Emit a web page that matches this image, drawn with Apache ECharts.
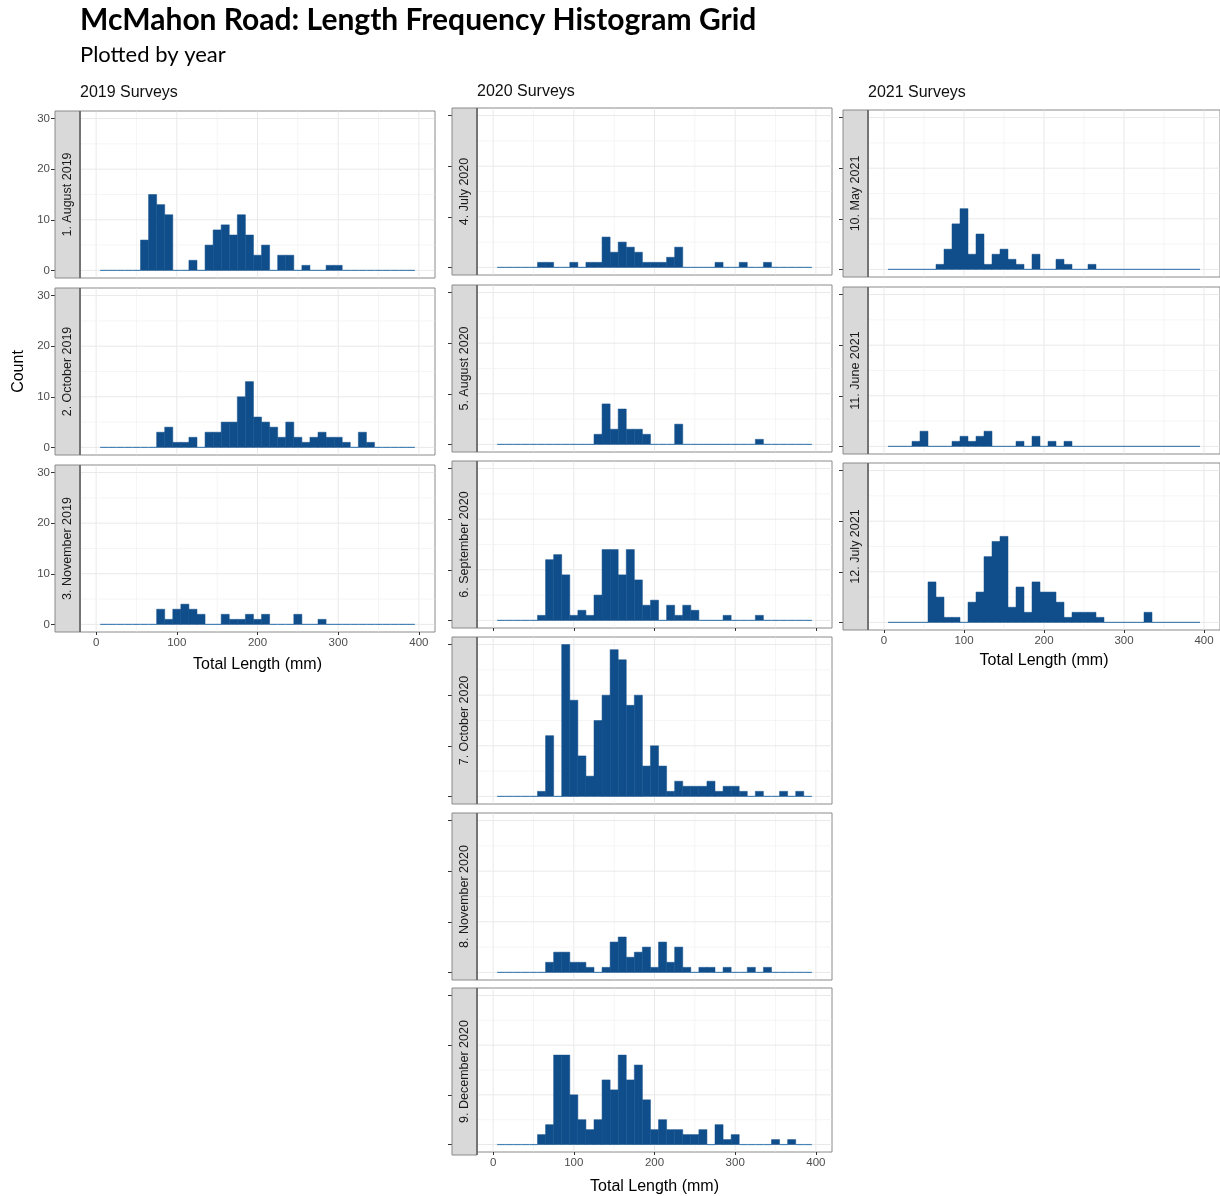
<!DOCTYPE html>
<html>
<head>
<meta charset="utf-8">
<script src="https://cdn.jsdelivr.net/npm/echarts@6/dist/echarts.min.js"></script>
<style>
html,body{margin:0;padding:0;background:#fff;}
#c{width:1220px;height:1196px;}
</style>
</head>
<body>
<div id="c"></div>
<script>
// ---------------- DATA ----------------
const binCenters = [10,20,30,40,50,60,70,80,90,100,110,120,130,140,150,160,170,180,190,200,
                    210,220,230,240,250,260,270,280,290,300,310,320,330,340,350,360,370,380,390];
const xTickValues = [0,100,200,300,400];
const xMinorValues = [50,150,250,350];
const yTickValues = [0,10,20,30];
const yMinorValues = [5,15,25];

const columnTitles = ['2019 Surveys','2020 Surveys','2021 Surveys'];
const surveyNames2019 = ['1. August 2019','2. October 2019','3. November 2019'];
const surveyNames2020 = ['4. July 2020','5. August 2020','6. September 2020','7. October 2020','8. November 2020','9. December 2020'];
const surveyNames2021 = ['10. May 2021','11. June 2021','12. July 2021'];

// counts per 10 mm bin (bins centred at binCenters)
const aug2019 = [0,0,0,0,0,6,15,13,11,0, 0,2,0,5,8,9,7,11,7,3, 5,0,3,3,0,1,0,0,1,1, 0,0,0,0,0,0,0,0,0];
const oct2019 = [0,0,0,0,0,0,0,3,4,1, 1,2,0,3,3,5,5,10,13,6, 5,4,2,5,2,1,2,3,2,2, 1,0,3,1,0,0,0,0,0];
const nov2019 = [0,0,0,0,0,0,0,3,1,3, 4,3,2,0,0,2,1,1,2,1, 2,0,0,0,2,0,0,1,0,0, 0,0,0,0,0,0,0,0,0];
const jul2020 = [0,0,0,0,0,1,1,0,0,1, 0,1,1,6,3,5,4,3,1,1, 1,2,4,0,0,0,0,1,0,0, 1,0,0,1,0,0,0,0,0];
const aug2020 = [0,0,0,0,0,0,0,0,0,0, 0,0,2,8,3,7,3,3,2,0, 0,0,4,0,0,0,0,0,0,0, 0,0,1,0,0,0,0,0,0];
const sep2020 = [0,0,0,0,0,1,12,13,9,1, 2,1,5,14,14,9,14,8,3,4, 0,3,1,3,2,0,0,0,1,0, 0,0,1,0,0,0,0,0,0];
const oct2020 = [0,0,0,0,0,1,12,0,30,19, 8,4,15,20,29,27,18,20,6,10, 6,1,3,2,2,2,3,1,2,2, 1,0,1,0,0,1,0,1,0];
const nov2020 = [0,0,0,0,0,0,2,4,4,2, 2,1,0,1,6,7,3,4,5,1, 6,2,5,1,0,1,1,0,1,0, 0,1,0,1,0,0,0,0,0];
const dec2020 = [0,0,0,0,0,2,4,18,18,10, 5,3,5,13,11,18,13,16,9,3, 5,3,3,2,2,3,0,4,1,2, 0,0,0,0,1,0,1,0,0];
const may2021 = [0,0,0,0,0,0,1,4,9,12, 3,7,1,3,4,2,1,0,3,0, 0,2,1,0,0,1,0,0,0,0, 0,0,0,0,0,0,0,0,0];
const jun2021 = [0,0,0,1,3,0,0,0,1,2, 1,2,3,0,0,0,1,0,2,0, 1,0,1,0,0,0,0,0,0,0, 0,0,0,0,0,0,0,0,0];
const jul2021 = [0,0,0,0,0,8,5,1,1,0, 4,6,13,16,17,3,7,2,8,6, 6,4,1,2,2,2,1,0,0,0, 0,0,2,0,0,0,0,0,0];

// ---------------- LAYOUT ----------------
const BIN_W = 10;
const PANEL_H = 167;
const STRIP_W = 25;
const FONT = '"Liberation Sans", Arial, sans-serif';
const columns = [
  {left:80,  width:355, titleY:93, names:surveyNames2019, counts:[aug2019,oct2019,nov2019],
   tops:[111,288,465], tickPanels:[2], labelPanels:[2], nameGap:25},
  {left:477, width:355, titleY:92, names:surveyNames2020, counts:[jul2020,aug2020,sep2020,oct2020,nov2020,dec2020],
   tops:[108,285,461,637,813,988], tickPanels:[2,5], labelPanels:[5], nameGap:27},
  {left:868, width:356, titleY:93, names:surveyNames2021, counts:[may2021,jun2021,jul2021],
   tops:[110,287,463], tickPanels:[2], labelPanels:[2], nameGap:23}
];

const grids = [], xAxes = [], yAxes = [], series = [], graphics = [];

graphics.push({type:'text', x:80, y:20, z:20,
  style:{text:'McMahon Road: Length Frequency Histogram Grid', fontFamily:'Lato, "Open Sans", sans-serif',
         fontWeight:'bold', fontSize:30, fill:'#000', align:'left', verticalAlign:'middle'}});
graphics.push({type:'text', x:80, y:55, z:20,
  style:{text:'Plotted by year', fontFamily:'Lato, "Open Sans", sans-serif',
         fontSize:22, fill:'#000', align:'left', verticalAlign:'middle'}});

const gridLineData = [
  ...xTickValues.map(v => [v, 0, 0]),
  ...xMinorValues.map(v => [v, 0, 1]),
  ...yTickValues.map(v => [0, v, 2]),
  ...yMinorValues.map(v => [0, v, 3])
];

columns.forEach((col, ci) => {
  graphics.push({type:'text', x:col.left, y:col.titleY, z:20,
    style:{text:columnTitles[ci], fontFamily:FONT, fontSize:16, fill:'#111', align:'left', verticalAlign:'middle'}});
  col.tops.forEach((top, pi) => {
    const gi = grids.length;
    const showTicks = col.tickPanels.includes(pi);
    const showLabels = col.labelPanels.includes(pi);
    grids.push({left:col.left, top:top, width:col.width, height:PANEL_H, show:true,
      backgroundColor:'#fff', borderColor:'#8a8a8a', borderWidth:1, containLabel:false});
    xAxes.push({gridIndex:gi, type:'value', min:-20, max:420, position:'bottom',
      axisLine:{show:false, onZero:false}, splitLine:{show:false},
      axisTick:{show:showTicks, customValues:xTickValues, length:3, lineStyle:{color:'#333', width:1}},
      axisLabel:{show:showLabels, customValues:xTickValues, color:'#4d4d4d', fontSize:11.5, fontFamily:FONT, margin:5},
      name: showLabels ? 'Total Length (mm)' : '', nameLocation:'middle', nameGap:col.nameGap,
      nameTextStyle:{fontSize:16, color:'#000', fontFamily:FONT}});
    yAxes.push({gridIndex:gi, type:'value', min:-1.5, max:31.5, offset:STRIP_W, position:'left',
      axisLine:{show:false, onZero:false}, splitLine:{show:false},
      axisTick:{show:true, customValues:yTickValues, length:4, lineStyle:{color:'#333', width:1}},
      axisLabel:{show:ci===0, customValues:yTickValues, color:'#4d4d4d', fontSize:11.5, fontFamily:FONT, margin:5},
      name: (ci===0 && pi===1) ? 'Count' : '', nameLocation:'middle', nameRotate:90, nameGap:28,
      nameTextStyle:{fontSize:16, color:'#000', fontFamily:FONT}});

    // grid lines (drawn through the axes' scales)
    series.push({type:'custom', xAxisIndex:gi, yAxisIndex:gi, z:1, silent:true,
      data: gridLineData,
      renderItem:(params, api) => {
        const cs = params.coordSys;
        const kind = api.value(2);
        const major = (kind === 0 || kind === 2);
        const style = {stroke: major ? '#e9e9e9' : '#f2f2f2', lineWidth: major ? 1 : 0.8};
        if (kind < 2) {
          const x = api.coord([api.value(0), 0])[0];
          return {type:'line', shape:{x1:x, y1:cs.y + 0.5, x2:x, y2:cs.y + cs.height - 0.5}, style};
        }
        const y = api.coord([0, api.value(1)])[1];
        return {type:'line', shape:{x1:cs.x + 0.5, y1:y, x2:cs.x + cs.width - 0.5, y2:y}, style};
      }});

    // histogram bars
    const counts = col.counts[pi];
    series.push({type:'custom', xAxisIndex:gi, yAxisIndex:gi, z:3, silent:true,
      data: binCenters.map((c, j) => [c, counts[j]]),
      renderItem:(params, api) => {
        const c = api.value(0), n = api.value(1);
        const p0 = api.coord([c - BIN_W/2, 0]);
        const p1 = api.coord([c + BIN_W/2, n]);
        if (n === 0) {
          return {type:'line', shape:{x1:p0[0], y1:p0[1], x2:p1[0], y2:p0[1]},
                  style:{stroke:'#4682B4', lineWidth:1.2}};
        }
        return {type:'rect', shape:{x:p0[0], y:p1[1], width:p1[0]-p0[0], height:p0[1]-p1[1]},
                style:{fill:'#104E8B', stroke:'#104E8B', lineWidth:0.5}};
      }});

    // strip
    graphics.push({type:'rect', z:5, shape:{x:col.left - STRIP_W, y:top, width:STRIP_W, height:PANEL_H},
      style:{fill:'#d9d9d9', stroke:'#8a8a8a', lineWidth:1}});
    graphics.push({type:'line', z:6, shape:{x1:col.left, y1:top, x2:col.left, y2:top + PANEL_H},
      style:{stroke:'#666', lineWidth:1.6}});
    graphics.push({type:'text', z:7, x:col.left - STRIP_W/2, y:top + PANEL_H/2, rotation:Math.PI/2,
      style:{text:col.names[pi], fontFamily:FONT, fontSize:12.5, fill:'#1a1a1a', align:'center', verticalAlign:'middle'}});
  });
});

const chart = echarts.init(document.getElementById('c'), null, {renderer:'canvas'});
chart.setOption({
  animation:false,
  backgroundColor:'#fff',
  grid:grids, xAxis:xAxes, yAxis:yAxes, series:series, graphic:graphics
});
</script>
</body>
</html>
